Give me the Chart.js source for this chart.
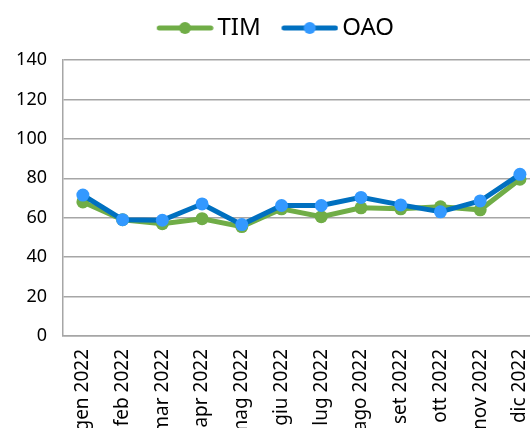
<!DOCTYPE html>
<html>
<head>
<meta charset="utf-8">
<script src="https://cdn.jsdelivr.net/npm/chart.js@4/dist/chart.umd.min.js"></script>
<style>
  html, body { margin: 0; padding: 0; background: #fff; overflow: hidden; }
  #wrap { width: 556px; height: 428px; }
</style>
</head>
<body>
<div id="wrap"><canvas id="chart" width="556" height="428"></canvas></div>
<script>
// dati
const mesi = ['gen 2022', 'feb 2022', 'mar 2022', 'apr 2022', 'mag 2022', 'giu 2022',
              'lug 2022', 'ago 2022', 'set 2022', 'ott 2022', 'nov 2022', 'dic 2022'];
const tim = [68, 59, 57, 59.5, 55.5, 64.5, 60.5, 65, 64.5, 65.5, 64, 79.5];
const oao = [71.5, 59, 58.7, 67, 56.5, 66.2, 66.2, 70.3, 66.5, 63, 68.5, 82];
const yTicks = [0, 20, 40, 60, 80, 100, 120, 140];

const FONT = "'Noto Sans', sans-serif";

// simbolo legenda: linea con punto al centro (spostata a destra nell'immagine)
function legendIcon(lineColor, dotColor) {
  const c = document.createElement('canvas');
  c.width = 76; c.height = 14;
  const g = c.getContext('2d');
  g.strokeStyle = lineColor;
  g.lineWidth = 5;
  g.lineCap = 'round';
  g.beginPath(); g.moveTo(21.5, 7); g.lineTo(73, 7); g.stroke();
  g.fillStyle = dotColor;
  g.beginPath(); g.arc(47.25, 7, 6, 0, Math.PI * 2); g.fill();
  return c;
}
const icons = [legendIcon('#70ad47', '#70ad47'), legendIcon('#0070c0', '#3399ff')];

// spazio extra sotto la legenda e piccolo spostamento a sinistra
const legendGap = {
  id: 'legendGap',
  beforeLayout(chart) {
    const lg = chart.legend;
    if (lg && !lg._gapPatched) {
      const fit = lg.fit;
      lg.fit = function() { fit.call(this); this.height += 10; };
      lg._gapPatched = true;
    }
  },
  afterLayout(chart) {
    const lg = chart.legend;
    if (lg) { lg.left -= 6; lg.right -= 6; }
  }
};

new Chart(document.getElementById('chart'), {
  type: 'line',
  plugins: [legendGap],
  data: {
    labels: mesi,
    datasets: [
      {
        label: 'TIM',
        data: tim,
        borderColor: '#70ad47',
        backgroundColor: '#70ad47',
        pointBackgroundColor: '#70ad47',
        pointBorderWidth: 0,
        pointRadius: 6.5,
        borderWidth: 5,
        tension: 0,
        order: 1
      },
      {
        label: 'OAO',
        data: oao,
        borderColor: '#0070c0',
        backgroundColor: '#3399ff',
        pointBackgroundColor: '#3399ff',
        pointBorderWidth: 0,
        pointRadius: 6.5,
        borderWidth: 5,
        tension: 0,
        order: 0
      }
    ]
  },
  options: {
    responsive: false,
    animation: false,
    layout: { padding: { top: 6, right: 4, left: 0, bottom: 0 } },
    plugins: {
      tooltip: { enabled: false },
      legend: {
        position: 'top',
        labels: {
          usePointStyle: true,
          pointStyleWidth: 59.5,
          padding: 10,
          color: '#000',
          font: { family: FONT, size: 24 },
          generateLabels: function(chart) {
            const items = Chart.defaults.plugins.legend.labels.generateLabels(chart);
            items.forEach(it => { it.pointStyle = icons[it.datasetIndex]; });
            return items;
          },
          sort: (a, b) => a.datasetIndex - b.datasetIndex
        }
      }
    },
    scales: {
      x: {
        offset: true,
        grid: { display: false, drawTicks: false },
        border: { color: '#a6a6a6', width: 1.5 },
        ticks: {
          color: '#000',
          font: { family: FONT, size: 19 },
          minRotation: 90,
          maxRotation: 90,
          autoSkip: false,
          padding: 13
        },
        afterFit: function(scale) { scale.height = 92; }
      },
      y: {
        min: 0,
        max: 140,
        grid: { color: '#a6a6a6', lineWidth: 1.5, drawTicks: false },
        border: { color: '#a6a6a6', width: 1.5 },
        afterBuildTicks: function(scale) { scale.ticks = yTicks.map(v => ({ value: v })); },
        ticks: {
          color: '#000',
          font: { family: FONT, size: 18 },
          padding: 16
        },
        afterFit: function(scale) { scale.width = 63; }
      }
    }
  }
});
</script>
</body>
</html>
